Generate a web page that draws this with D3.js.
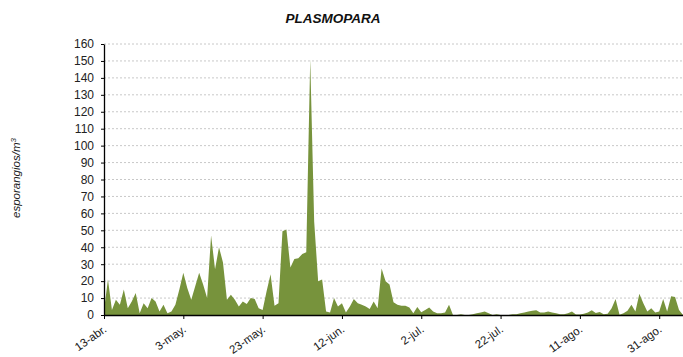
<!DOCTYPE html>
<html>
<head>
<meta charset="utf-8">
<script src="https://cdn.jsdelivr.net/npm/d3@7"></script>
<style>
  body { margin: 0; background: #fff; }
  svg { display: block; font-family: "Liberation Sans", Arial, sans-serif; }
</style>
</head>
<body>
<svg id="chart" width="683" height="357"></svg>
<script>
// daily sporangia counts, 13 Apr -> 6 Sep
const startDate = new Date(2010, 3, 13);
const values = [
  3, 21, 3, 9, 6, 15, 4, 8, 13, 1,
  7, 4, 10, 8, 2, 6, 1, 2, 6, 15,
  25, 16, 9, 17, 25, 18, 10, 47, 27, 40,
  31, 9, 12, 9, 5, 8, 6.5, 10, 9.5, 4,
  3, 14, 24, 5.5, 7, 49.5, 50.5, 28, 33, 33.5,
  36, 37, 151, 55, 20, 21, 2, 1.5, 10, 5,
  7, 1.5, 5, 9.5, 7, 6, 5, 3.5, 8, 4,
  27.5, 20, 18, 7.5, 6, 5.5, 5.5, 4.5, 1, 4.7,
  1.6, 3, 4.5, 2, 1, 1, 1.5, 6, 0, 0,
  0.5, 0, 0, 0.5, 1, 1.5, 2, 1, 0, 0.5,
  0, 0, 0, 0.5, 0.5, 1, 1.5, 2, 2.5, 2.8,
  1.5, 1.5, 2, 1.5, 1, 0.5, 0.4, 1, 2, 0.3,
  0.3, 0.8, 1.5, 2.8, 1.2, 1.8, 0.4, 0.8, 4, 9.5,
  0.2, 1, 2.5, 6, 2, 12.6, 7, 2, 4, 1.5,
  2, 9.5, 2, 11, 10.7, 3, 0
];
const tickLabels = ["13-abr.", "3-may.", "23-may.", "12-jun.", "2-jul.", "22-jul.", "11-ago.", "31-ago."];
const yTicks = d3.range(0, 161, 10);

const data = values.map((v, i) => ({ date: d3.timeDay.offset(startDate, i), value: v }));
const tickDates = tickLabels.map((_, i) => d3.timeDay.offset(startDate, i * 20));

const svg = d3.select("#chart");
const mLeft = 104, mTop = 44, mBottom = 315, mRight = 683;

const x = d3.scaleTime()
  .domain([startDate, d3.timeDay.offset(startDate, 146.7)])
  .range([mLeft, mRight]);
const y = d3.scaleLinear().domain([0, 160]).range([mBottom, mTop]);

// dashed gridlines
svg.append("g")
  .selectAll("line")
  .data(yTicks.slice(1))
  .join("line")
  .attr("x1", mLeft).attr("x2", mRight)
  .attr("y1", d => y(d)).attr("y2", d => y(d))
  .attr("stroke", "#c8c8c8")
  .attr("stroke-dasharray", "2,2");

// area
const area = d3.area()
  .x(d => x(d.date))
  .y0(y(0))
  .y1(d => y(d.value));

svg.append("path")
  .datum(data)
  .attr("d", area)
  .attr("fill", "#77933c");

// y axis
const yAxis = svg.append("g")
  .attr("transform", `translate(${mLeft},0)`)
  .call(d3.axisLeft(y).tickValues(yTicks).tickSize(3).tickPadding(7).tickSizeOuter(0));
yAxis.select(".domain").attr("stroke", "#000").attr("stroke-width", 1.3);
yAxis.selectAll("text").attr("font-size", 12).attr("fill", "#222");

// x axis
const xAxis = svg.append("g")
  .attr("transform", `translate(0,${mBottom})`)
  .call(d3.axisBottom(x).tickValues(tickDates).tickSize(4).tickSizeOuter(0).tickFormat((d, i) => tickLabels[i]));
xAxis.select(".domain").attr("stroke", "#000").attr("stroke-width", 1.3);
xAxis.selectAll("text")
  .attr("font-size", 11.5)
  .attr("fill", "#222")
  .attr("text-anchor", "end")
  .attr("dy", null)
  .attr("y", null)
  .attr("transform", "translate(3,16) rotate(-35)");

// title
svg.append("text")
  .attr("x", 333).attr("y", 23)
  .attr("text-anchor", "middle")
  .attr("font-size", 13.5)
  .attr("font-weight", "bold")
  .attr("font-style", "italic")
  .attr("fill", "#111")
  .text("PLASMOPARA");

// y label
svg.append("text")
  .attr("transform", "translate(20,178) rotate(-90)")
  .attr("text-anchor", "middle")
  .attr("font-size", 11.5)
  .attr("font-style", "italic")
  .attr("fill", "#222")
  .html('esporangios/m<tspan dy="-4" font-size="8">3</tspan>');
</script>
</body>
</html>
